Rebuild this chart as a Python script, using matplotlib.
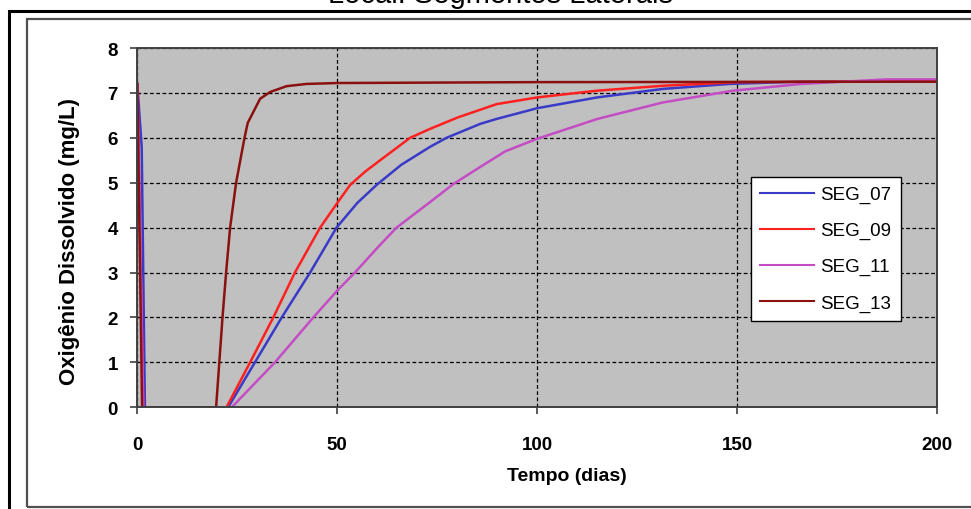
import matplotlib
matplotlib.use('Agg')
import matplotlib.pyplot as plt
from matplotlib.patches import Rectangle

plt.rcParams['font.family'] = ['Liberation Sans', 'DejaVu Sans']

# valores (tempo em dias, OD em mg/L)
t_seg07 = [0, 1.1, 1.9, 22.7, 29.4, 36.1, 43.2, 49.8, 55, 59.8, 66, 73.2, 77.3, 85.7, 89.8, 100, 115, 131.5, 148, 165, 200]
od_seg07 = [7.2, 5.8, 0, 0, 1, 2, 3, 4, 4.55, 4.95, 5.4, 5.8, 6.0, 6.31, 6.42, 6.66, 6.9, 7.09, 7.2, 7.25, 7.26]

t_seg09 = [0, 1.5, 22.3, 28.2, 34, 39.4, 45.7, 50, 53.2, 57, 60.7, 68.2, 73.2, 80, 89.8, 100, 115, 131.5, 150, 200]
od_seg09 = [7.2, 0, 0, 1, 2, 3, 4, 4.55, 4.95, 5.25, 5.5, 6, 6.2, 6.45, 6.75, 6.9, 7.05, 7.16, 7.24, 7.26]

t_seg11 = [0, 1.5, 23.6, 34.4, 44, 50, 54.4, 60, 64.8, 73.2, 79, 85.7, 92, 100, 115, 131.5, 149, 166, 187, 200]
od_seg11 = [7.2, 0, 0, 1, 2, 2.6, 3, 3.55, 4, 4.57, 4.97, 5.35, 5.7, 5.98, 6.42, 6.79, 7.05, 7.2, 7.3, 7.3]

t_seg13 = [0, 1.2, 19.7, 20.5, 21.3, 22.2, 23.2, 24.7, 26.8, 27.6, 30.7, 33.2, 37.3, 42.3, 50, 100, 200]
od_seg13 = [7.2, 0, 0, 1, 2, 3, 4, 5, 6, 6.33, 6.87, 7.02, 7.15, 7.2, 7.22, 7.24, 7.25]

series = [
    ('SEG_07', t_seg07, od_seg07, '#3a3ac8'),
    ('SEG_09', t_seg09, od_seg09, '#ff2020'),
    ('SEG_11', t_seg11, od_seg11, '#c44cc4'),
    ('SEG_13', t_seg13, od_seg13, '#8b1010'),
]

fig = plt.figure(figsize=(9.71, 5.10), dpi=100)
W, H = 971.0, 510.0

# molduras externas (estilo Excel, cortadas na direita/baixo)
fig.patches.append(Rectangle((9 / W, -0.1), 1.2, 1 - 12 / H + 0.1, transform=fig.transFigure,
                             fill=False, edgecolor='black', linewidth=2.2))
fig.patches.append(Rectangle((27 / W, 1 - 508 / H), 1.2, (508 - 20) / H, transform=fig.transFigure,
                             fill=False, edgecolor='#505050', linewidth=1.6))

fig.text(0.515, 1 - 3 / H, 'Local: Segmentos Laterais', ha='center', va='baseline', fontsize=21)

x0, x1 = 137.3, 937.3
y0, y1 = 408.3, 49.0
ax = fig.add_axes([x0 / W, 1 - y0 / H, (x1 - x0) / W, (y0 - y1) / H])
ax.set_facecolor('#c0c0c0')

for nome, t, od, cor in series:
    ax.plot(t, od, color=cor, linewidth=1.8, label=nome)

ax.set_xlim(0, 200)
ax.set_ylim(0, 8)
ax.set_xticks([0, 50, 100, 150, 200])
ax.set_yticks(range(0, 9))
ax.grid(True, color='black', linestyle=(0, (3, 2)), linewidth=0.9)
ax.set_axisbelow(True)

for sp in ax.spines.values():
    sp.set_color('#404040')
    sp.set_linewidth(1.4)

ax.tick_params(axis='both', direction='out', length=5, width=1.2, color='#404040', labelsize=13.5)
ax.tick_params(axis='x', pad=16)
ax.tick_params(axis='y', pad=9)
for lb in ax.get_xticklabels() + ax.get_yticklabels():
    lb.set_fontweight('bold')

ax.set_xlabel('Tempo (dias)', fontsize=14, fontweight='bold')
ax.set_ylabel('Oxigênio Dissolvido (mg/L)', fontsize=16, fontweight='bold')
ax.xaxis.set_label_coords(0.537, -0.165)
ax.yaxis.set_label_coords(-0.072, 0.463)

leg = ax.legend(loc='upper left', bbox_to_anchor=(0.755, 0.668), fontsize=13.5,
                frameon=True, fancybox=False, shadow=False, framealpha=1,
                handlelength=2.9, handletextpad=0.3, labelspacing=1.0, borderpad=0.5)
leg.get_frame().set_edgecolor('black')
leg.get_frame().set_linewidth(1.0)
for ln in leg.get_lines():
    ln.set_linewidth(1.5)

fig.savefig('out.png', dpi=100)
